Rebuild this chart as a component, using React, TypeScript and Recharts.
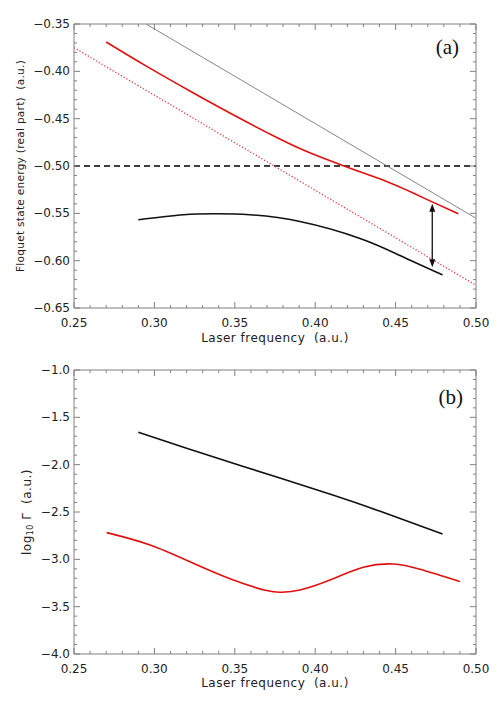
import { LineChart, Line, XAxis, YAxis, ReferenceLine } from "recharts";

// panel (a): real part of the Floquet state energies
const redFreqA = [0.27, 0.295, 0.324, 0.351, 0.378, 0.397, 0.4175, 0.431, 0.444, 0.457, 0.469, 0.489];
const redEnergyA = [-0.369, -0.3945, -0.4226, -0.4477, -0.4715, -0.4863, -0.4997, -0.508, -0.516, -0.5255, -0.535, -0.5504];

const blackFreqA = [0.29, 0.318, 0.3387, 0.3594, 0.3905, 0.4279, 0.4527, 0.4792];
const blackEnergyA = [-0.5568, -0.5515, -0.5504, -0.5515, -0.5586, -0.5765, -0.5945, -0.615];

const dottedFreqA = [0.25, 0.5];
const dottedEnergyA = [-0.375, -0.626];

const thinFreqA = [0.2948, 0.5];
const thinEnergyA = [-0.35, -0.5552];

const thresholdA = -0.5;
const arrowFreq = 0.4728;
const arrowEnergies = [-0.54, -0.607];

// panel (b): log10 of the widths
const blackFreqB = [0.29, 0.32, 0.35, 0.38, 0.41, 0.44, 0.4792];
const blackLogB = [-1.658, -1.826, -1.99, -2.152, -2.316, -2.49, -2.732];

const redFreqB = [0.2703, 0.2973, 0.3242, 0.3491, 0.3698, 0.3792, 0.3905, 0.4092, 0.4299, 0.4486, 0.4652, 0.49];
const redLogB = [-2.718, -2.848, -3.041, -3.218, -3.33, -3.347, -3.323, -3.218, -3.084, -3.049, -3.105, -3.235];

// axes
const xMajors = [0.25, 0.3, 0.35, 0.4, 0.45, 0.5];
const yMajorsA = [-0.65, -0.6, -0.55, -0.5, -0.45, -0.4, -0.35];
const yMajorsB = [-4, -3.5, -3, -2.5, -2, -1.5, -1];

const W = 498;
const H = 351;
const FRAME = "#808080";
const FONT = "'DejaVu Sans', sans-serif";
const RED = "#e01010";
const INK = "#111111";

const pts = (xs: number[], ys: number[]) => xs.map((x, i) => ({ x, y: ys[i] }));

// majors plus 4 minor ticks between each pair
const withMinors = (majors: number[]) =>
  majors.flatMap((m, i) =>
    i === majors.length - 1 ? [m] : [0, 1, 2, 3, 4].map((k) => m + ((majors[i + 1] - m) * k) / 5)
  );

const isMajor = (majors: number[], v: number) => majors.some((m) => Math.abs(m - v) < 1e-9);
const minus = (s: string) => s.replace("-", "\u2212");

type TickProps = { x?: number; y?: number; payload?: { value: number } };

// ticks point into the plot, like the original
const makeTick =
  (side: "bottom" | "top" | "left" | "right", majors: number[], fmt?: (v: number) => string) =>
  ({ x = 0, y = 0, payload }: TickProps) => {
    const v = payload?.value ?? 0;
    const major = isMajor(majors, v);
    const len = major ? 6 : 3;
    let line;
    if (side === "bottom") line = <line x1={x} x2={x} y1={y} y2={y - len} stroke={FRAME} />;
    else if (side === "top") line = <line x1={x} x2={x} y1={y} y2={y + len} stroke={FRAME} />;
    else if (side === "left") line = <line x1={x} x2={x + len} y1={y} y2={y} stroke={FRAME} />;
    else line = <line x1={x} x2={x - len} y1={y} y2={y} stroke={FRAME} />;
    return (
      <g>
        {line}
        {major && fmt && side === "bottom" && (
          <text x={x} y={y + 15} textAnchor="middle" dominantBaseline="central" fontFamily={FONT} fontSize={12} fill="#222">
            {fmt(v)}
          </text>
        )}
        {major && fmt && side === "left" && (
          <text x={x - 4} y={y} textAnchor="end" dominantBaseline="central" fontFamily={FONT} fontSize={12} fill="#222">
            {fmt(v)}
          </text>
        )}
      </g>
    );
  };

const fmtX = (v: number) => v.toFixed(2);
const fmtA = (v: number) => minus(v.toFixed(2));
const fmtB = (v: number) => minus(v.toFixed(1));

type ArrowProps = { x1?: number; y1?: number; x2?: number; y2?: number };

function DoubleArrow({ x1 = 0, y1 = 0, x2 = 0, y2 = 0 }: ArrowProps) {
  const head = 8;
  const half = 3;
  const dir = y2 > y1 ? 1 : -1;
  return (
    <g>
      <line x1={x1} y1={y1 + dir * 4} x2={x2} y2={y2 - dir * 4} stroke={INK} strokeWidth={1.3} />
      <polygon points={`${x1},${y1} ${x1 - half},${y1 + dir * head} ${x1 + half},${y1 + dir * head}`} fill={INK} />
      <polygon points={`${x2},${y2} ${x2 - half},${y2 - dir * head} ${x2 + half},${y2 - dir * head}`} fill={INK} />
    </g>
  );
}

function Frame({ yMajors, fmtY }: { yMajors: number[]; fmtY: (v: number) => string }) {
  const xTicks = withMinors(xMajors);
  const yTicks = withMinors(yMajors);
  const yDomain = [yMajors[0], yMajors[yMajors.length - 1]];
  return [
    <XAxis
      key="xb"
      dataKey="x"
      type="number"
      domain={[0.25, 0.5]}
      ticks={xTicks}
      interval={0}
      height={1}
      tickSize={0}
      tickMargin={0}
      tickLine={false}
      axisLine={{ stroke: FRAME }}
      tick={makeTick("bottom", xMajors, fmtX)}
      allowDataOverflow
    />,
    <XAxis
      key="xt"
      xAxisId="top"
      orientation="top"
      dataKey="x"
      type="number"
      domain={[0.25, 0.5]}
      ticks={xTicks}
      interval={0}
      height={1}
      tickSize={0}
      tickMargin={0}
      tickLine={false}
      axisLine={{ stroke: FRAME }}
      tick={makeTick("top", xMajors)}
      allowDataOverflow
    />,
    <YAxis
      key="yl"
      type="number"
      domain={yDomain}
      ticks={yTicks}
      interval={0}
      width={1}
      tickSize={0}
      tickMargin={0}
      tickLine={false}
      axisLine={{ stroke: FRAME }}
      tick={makeTick("left", yMajors, fmtY)}
      allowDataOverflow
    />,
    <YAxis
      key="yr"
      yAxisId="right"
      orientation="right"
      type="number"
      domain={yDomain}
      ticks={yTicks}
      interval={0}
      width={1}
      tickSize={0}
      tickMargin={0}
      tickLine={false}
      axisLine={{ stroke: FRAME }}
      tick={makeTick("right", yMajors)}
      allowDataOverflow
    />,
  ];
}

const titleStyle = { fontFamily: FONT, fontSize: 12, letterSpacing: 0.5, fill: "#222" };

export default function App() {
  return (
    <div style={{ position: "absolute", left: 0, top: 0, width: W, height: 2 * H, background: "#fff" }}>
      <LineChart width={W} height={H} margin={{ top: 23, right: 21, bottom: 42, left: 73 }}>
        {Frame({ yMajors: yMajorsA, fmtY: fmtA })}
        <ReferenceLine y={thresholdA} stroke="#000" strokeWidth={1.3} strokeDasharray="6 4" />
        <Line data={pts(thinFreqA, thinEnergyA)} dataKey="y" type="linear" stroke="#777" strokeWidth={0.9} dot={false} activeDot={false} isAnimationActive={false} />
        <Line data={pts(dottedFreqA, dottedEnergyA)} dataKey="y" type="linear" stroke="#e53535" strokeWidth={1.3} strokeDasharray="1.2 2" dot={false} activeDot={false} isAnimationActive={false} />
        <Line data={pts(redFreqA, redEnergyA)} dataKey="y" type="natural" stroke={RED} strokeWidth={1.6} dot={false} activeDot={false} isAnimationActive={false} />
        <Line data={pts(blackFreqA, blackEnergyA)} dataKey="y" type="natural" stroke={INK} strokeWidth={1.6} dot={false} activeDot={false} isAnimationActive={false} />
        <ReferenceLine
          segment={[
            { x: arrowFreq, y: arrowEnergies[0] },
            { x: arrowFreq, y: arrowEnergies[1] },
          ]}
          shape={(p: ArrowProps) => <DoubleArrow {...p} />}
        />
        <text x={459} y={54} textAnchor="end" fontFamily="'Liberation Serif', serif" fontSize={21} fill="#111">
          (a)
        </text>
        <text x={275} y={338} textAnchor="middle" dominantBaseline="central" {...titleStyle} style={{ whiteSpace: "pre" }}>
          Laser frequency  (a.u.)
        </text>
        <text
          x={20}
          y={166}
          textAnchor="middle"
          dominantBaseline="central"
          transform="rotate(-90, 20, 166)"
          {...titleStyle}
          fontSize={10.5}
          letterSpacing={0.3}
          style={{ whiteSpace: "pre" }}
        >
          Floquet state energy (real part)  (a.u.)
        </text>
      </LineChart>

      <LineChart width={W} height={H} margin={{ top: 18, right: 21, bottom: 47, left: 73 }}>
        {Frame({ yMajors: yMajorsB, fmtY: fmtB })}
        <Line data={pts(blackFreqB, blackLogB)} dataKey="y" type="natural" stroke={INK} strokeWidth={1.6} dot={false} activeDot={false} isAnimationActive={false} />
        <Line data={pts(redFreqB, redLogB)} dataKey="y" type="natural" stroke={RED} strokeWidth={1.6} dot={false} activeDot={false} isAnimationActive={false} />
        <text x={463} y={53} textAnchor="end" fontFamily="'Liberation Serif', serif" fontSize={21} fill="#111">
          (b)
        </text>
        <text x={275} y={332} textAnchor="middle" dominantBaseline="central" {...titleStyle} style={{ whiteSpace: "pre" }}>
          Laser frequency  (a.u.)
        </text>
        <text x={27} y={161} textAnchor="middle" dominantBaseline="central" transform="rotate(-90, 27, 161)" {...titleStyle} style={{ whiteSpace: "pre" }}>
          log
          <tspan fontSize={8} dy={3}>10</tspan>
          <tspan dy={-3}> {"\u0393"}  (a.u.)</tspan>
        </text>
      </LineChart>
    </div>
  );
}
